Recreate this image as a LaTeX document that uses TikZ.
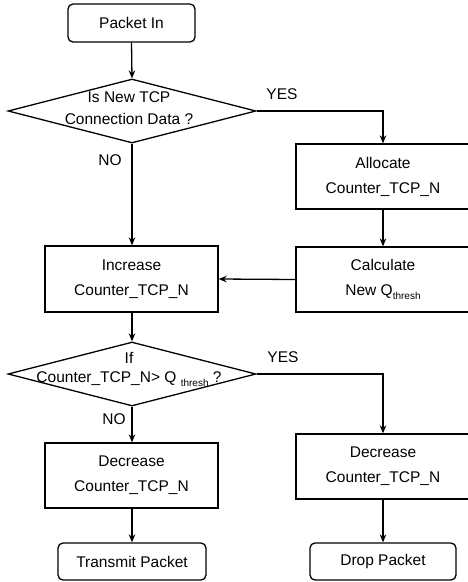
\documentclass[tikz,border=0pt]{standalone}
\usepackage{fontspec}
\setmainfont{Liberation Sans}
\usetikzlibrary{shapes.geometric,arrows.meta}
\newcommand{\thr}{\raisebox{-0.45ex}{\fontsize{10}{10}\selectfont thresh}}
\begin{document}
\begin{tikzpicture}[x=1pt,y=-1pt,
  every node/.style={font=\fontsize{15.5}{25}\selectfont},
  box/.style={draw,line width=1.3pt,rectangle,inner sep=0pt,align=center},
  term/.style={box,rounded corners=5pt},
  dia/.style={draw,line width=1.3pt,shape=diamond,inner sep=0pt,minimum width=248pt,minimum height=64pt},
  dtext/.style={align=center,inner sep=0pt},
  lbl/.style={inner sep=0pt},
  arr/.style={line width=1.3pt,-{Stealth[length=8pt,width=6.5pt]}},
  ln/.style={line width=1.3pt}]
\useasboundingbox (0,0) rectangle (468,582);
% nodes
\node[term,minimum width=127pt,minimum height=38pt] (pin) at (131.5,23) {Packet In};
\node[dia] (d1) at (132,111) {};
\node[dtext,font=\fontsize{15.5}{21.5}\selectfont] (d1t) at (129,108) {Is New TCP\\Connection Data ?};
\node[box,minimum width=174pt,minimum height=65pt] (alloc) at (383,176.5) {Allocate\\Counter\_TCP\_N};
\node[box,minimum width=174pt,minimum height=65pt] (calc) at (383,279.5) {Calculate\\New Q\thr};
\node[box,minimum width=173pt,minimum height=66pt] (inc) at (131.5,279) {Increase\\Counter\_TCP\_N};
\node[dia] (d2) at (132,374) {};
\node[dtext,font=\fontsize{15.5}{19}\selectfont] (d2t) at (129,369.5) {If\\Counter\_TCP\_N> Q \thr\ ?};
\node[box,minimum width=173pt,minimum height=65pt] (decl) at (131.5,475.5) {Decrease\\Counter\_TCP\_N};
\node[box,minimum width=174pt,minimum height=65pt] (decr) at (383,466.5) {Decrease\\Counter\_TCP\_N};
\node[term,minimum width=148pt,minimum height=37pt] (tx) at (132,561.5) {Transmit Packet};
\node[term,minimum width=146pt,minimum height=37pt] (drop) at (383,561.5) {Drop Packet};
% labels
\node[lbl] (yes1) at (282,94) {YES};
\node[lbl] (no1) at (110,160) {NO};
\node[lbl] (yes2) at (283,357) {YES};
\node[lbl] (no2) at (114,419) {NO};
% connectors
\draw[arr] (pin.south) -- (d1.north);
\draw[arr] (d1.east) -| (alloc.north);
\draw[arr] (d1.south) -- (d1.south |- inc.north);
\draw[arr] (alloc.south) -- (calc.north);
\draw[arr] (calc.west) -- (inc.east);
\draw[arr] (inc.south -| d2.north) -- (d2.north);
\draw[arr] (d2.east) -| (decr.north);
\draw[arr] (d2.south) -- (d2.south |- decl.north);
\draw[arr] (decl.south -| tx.north) -- (tx.north);
\draw[arr] (decr.south) -- (drop.north);
\end{tikzpicture}
\end{document}
